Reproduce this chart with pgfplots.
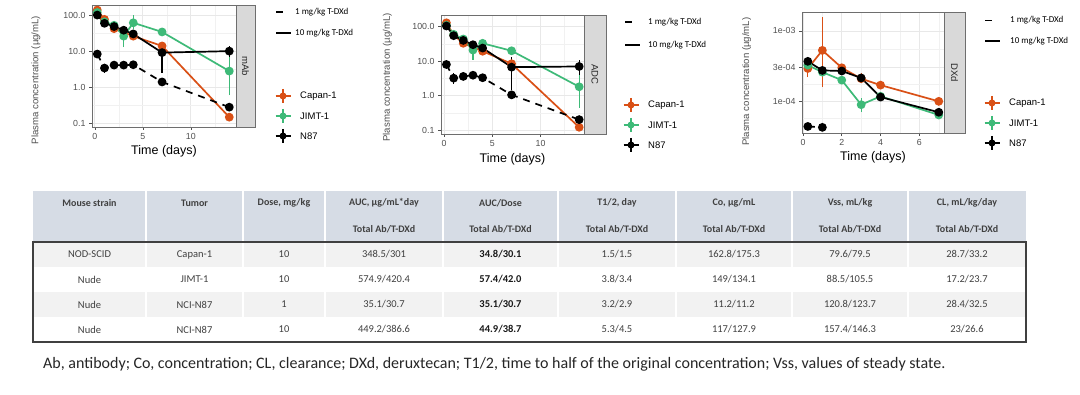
\documentclass[border=0pt]{standalone}
\usepackage{fontspec}
\setmainfont{Liberation Sans}
\newfontfamily\calib{Carlito}
\usepackage{pgfplots}
\pgfplotsset{compat=1.18}
\definecolor{capc}{RGB}{217,80,22}
\definecolor{jimc}{RGB}{62,186,120}
\definecolor{gridc}{RGB}{232,232,232}
\definecolor{stripc}{RGB}{217,217,217}
\definecolor{bordc}{RGB}{110,110,110}
\definecolor{tickc}{RGB}{80,80,80}
\definecolor{hdr}{RGB}{214,220,229}
\definecolor{rowg}{RGB}{242,242,242}
\definecolor{tabtxt}{RGB}{64,64,64}
\pgfplotsset{every axis/.append style={
    scale only axis,
    axis line style={draw=bordc, line width=0.7pt},
    grid=both,
    major grid style={draw=gridc, line width=0.8pt},
    minor grid style={draw=gridc!60!white, line width=0.4pt},
    tick style={draw=tickc, line width=0.6pt},
    major tick length=3pt, minor tick length=0pt,
    tick align=outside, xtick pos=bottom, ytick pos=left,
    /pgf/number format/assume math mode=true,
    tick label style={font=\fontsize{8.8}{10}\selectfont, text=tickc},
    xlabel={Time (days)}, ylabel={Plasma concentration (µg/mL)},
    x label style={font=\fontsize{12.5}{14}\selectfont, anchor=center},
    y label style={font=\fontsize{9.6}{11}\selectfont, text=tickc, anchor=center},
    unbounded coords=jump,
}}
\newcommand{\strip}[5]{% x1 y1 x2 y2 label
  \fill[stripc] (#1,#2) rectangle (#3,#4);
  \draw[bordc, line width=0.7pt] (#1,#2) rectangle (#3,#4);
  \node[rotate=-90, font=\fontsize{9.5}{11}\selectfont, text={black!85}] at ({(#1+#3)/2},{(#2+#4)/2}) {#5};}
\newcommand{\ltleg}[4]{% xline ytop ybot xtext
  \draw[black, line width=1.6pt, dash pattern=on 7pt off 12pt] (#1,#2) -- ++(15,0);
  \draw[black, line width=1.6pt] (#1,#3) -- ++(15,0);
  \node[anchor=west, font=\calib\fontsize{9}{10}\selectfont, inner sep=0pt] at (#4,#2) {1 mg/kg T-DXd};
  \node[anchor=west, font=\calib\fontsize{9}{10}\selectfont, inner sep=0pt] at (#4,#3) {10 mg/kg T-DXd};}
\newcommand{\colkey}[4]{% x y color label
  \draw[draw=#3, line width=1.6pt] (#1-7.5,#2) -- (#1+7.5,#2);
  \draw[draw=#3, line width=1.3pt] (#1,#2-7) -- (#1,#2+7);
  \fill[fill=#3] (#1,#2) circle (3.5);
  \node[anchor=west, font=\fontsize{9.5}{11}\selectfont, inner sep=0pt] at (#1+17,#2) {#4};}
\begin{document}
\begin{tikzpicture}[x=1pt,y=1pt]
\useasboundingbox (0,0) rectangle (1080,394);
\fill[white] (0,0) rectangle (1080,394);
% ---------------- Plot 1: mAb
\begin{axis}[at={(92pt,267pt)}, anchor=south west, width=144pt, height=122pt,
  ymode=log,
  xmin=-0.3, xmax=14.7, ymin=0.079, ymax=190,
  xtick={0,5,10}, minor xtick={2.5,7.5,12.5},
  ytick={0.1,1,10,100}, yticklabels={0.1,1.0,10.0,100.0}, minor ytick={0.316,3.16,31.6},
  y label style={at={(axis description cs:-0.39,0.385)}},
  x label style={at={(axis description cs:0.5,-0.197)}}]
\addplot[line width=1.7pt, color=capc, mark=*, mark size=3.5pt, mark options={solid, fill=capc}] coordinates {(0.25,138)(1,76)(2,42)(4,26)(7,13.9)(14,0.148)};
\addplot[line width=1.3pt, color=jimc, no marks] coordinates {(3,13)(3,45)(3,nan)(4,40)(4,100)(4,nan)(14,0.6)(14,10)};
\addplot[line width=1.7pt, color=jimc, mark=*, mark size=3.5pt, mark options={solid, fill=jimc}] coordinates {(0.25,118)(1,65)(2,52)(3,26)(4,61)(7,34)(14,2.8)};
\addplot[line width=1.3pt, color=black, no marks] coordinates {(7,2.5)(7,18)(7,nan)(14,7)(14,14)(14,nan)(1,2.5)(1,4.5)(1,nan)(4,3.4)(4,5)};
\addplot[line width=1.7pt, color=black, mark=*, mark size=3.5pt, mark options={solid, fill=black}] coordinates {(0.25,100)(1,59)(2,48)(3,38)(4,30)(7,9.1)(14,10)};
\addplot[line width=1.7pt, color=black, dash pattern=on 7pt off 6pt, mark=*, mark size=3.5pt, mark options={solid, fill=black}] coordinates {(0.25,8.3)(1,3.4)(2,4.1)(3,4.1)(4,4.2)(7,1.4)(14,0.28)};
\end{axis}
% ---------------- Plot 2: ADC
\begin{axis}[at={(441pt,260pt)}, anchor=south west, width=143pt, height=119pt,
  ymode=log,
  xmin=-0.31, xmax=14.5, ymin=0.0765, ymax=219,
  xtick={0,5,10}, minor xtick={2.5,7.5,12.5},
  ytick={0.1,1,10,100}, yticklabels={0.1,1.0,10.0,100.0}, minor ytick={0.316,3.16,31.6},
  y label style={at={(axis description cs:-0.375,0.475)}},
  x label style={at={(axis description cs:0.5,-0.21)}}]
\addplot[line width=1.7pt, color=capc, mark=*, mark size=3.5pt, mark options={solid, fill=capc}] coordinates {(0.25,130)(1,58)(2,33)(4,19.4)(7,8.4)(14,0.12)};
\addplot[line width=1.3pt, color=jimc, no marks] coordinates {(3,11)(3,38)(3,nan)(4,25)(4,45)(4,nan)(14,0.45)(14,6)};
\addplot[line width=1.7pt, color=jimc, mark=*, mark size=3.5pt, mark options={solid, fill=jimc}] coordinates {(0.25,110)(1,60)(2,44)(3,21)(4,33)(7,20)(14,1.8)};
\addplot[line width=1.3pt, color=black, no marks] coordinates {(7,1.5)(7,13)(7,nan)(14,4)(14,11)(14,nan)(1,2.2)(1,4.5)};
\addplot[line width=1.7pt, color=black, mark=*, mark size=3.5pt, mark options={solid, fill=black}] coordinates {(0.25,105)(1,55)(2,40)(3,30)(4,24)(7,6.7)(14,7)};
\addplot[line width=1.7pt, color=black, dash pattern=on 7pt off 6pt, mark=*, mark size=3.5pt, mark options={solid, fill=black}] coordinates {(0.25,8)(1,3.2)(2,3.6)(3,3.9)(4,3.3)(7,1.05)(14,0.2)};
\end{axis}
% ---------------- Plot 3: DXd
\begin{axis}[at={(802pt,261pt)}, anchor=south west, width=142pt, height=121pt,
  ymode=log,
  xmin=-0.05, xmax=7.27, ymin=3.55e-5, ymax=1.86e-3,
  xtick={0,2,4,6}, minor xtick={1,3,5,7},
  ytick={1e-4,3e-4,1e-3}, yticklabels={1e-04,3e-04,1e-03}, minor ytick={5.8e-5,1.73e-4,5.5e-4},
  y label style={at={(axis description cs:-0.39,0.425)}},
  x label style={at={(axis description cs:0.5,-0.198)}}]
\addplot[line width=1.3pt, color=capc, no marks] coordinates {(0.25,2.2e-4)(0.25,3.6e-4)(0.25,nan)(1,1.6e-4)(1,1.6e-3)(1,nan)(3,1.8e-4)(3,2.5e-4)};
\addplot[line width=1.7pt, color=capc, mark=*, mark size=3.5pt, mark options={solid, fill=capc}] coordinates {(0.25,2.93e-4)(1,5.3e-4)(2,3.0e-4)(3,2.1e-4)(4,1.7e-4)(7,1.0e-4)};
\addplot[line width=1.3pt, color=jimc, no marks] coordinates {(3,7e-5)(3,1.1e-4)(3,nan)(4,1.05e-4)(4,1.35e-4)};
\addplot[line width=1.7pt, color=jimc, mark=*, mark size=3.5pt, mark options={solid, fill=jimc}] coordinates {(0.25,3.27e-4)(1,2.6e-4)(2,2.0e-4)(3,8.96e-5)(4,1.18e-4)(7,6.4e-5)};
\addplot[line width=1.3pt, color=black, no marks] coordinates {(0.25,3.2e-4)(0.25,4.3e-4)(0.25,nan)(4,1.0e-4)(4,1.3e-4)};
\addplot[line width=1.7pt, color=black, mark=*, mark size=3.5pt, mark options={solid, fill=black}] coordinates {(0.25,3.7e-4)(1,2.75e-4)(2,2.7e-4)(3,2.15e-4)(4,1.15e-4)(7,7.0e-5)};
\addplot[line width=1.7pt, color=black, dash pattern=on 7pt off 6pt, mark=*, mark size=3.5pt, mark options={solid, fill=black}] coordinates {(0.25,4.4e-5)(1,4.27e-5)};
\end{axis}
% ---------------- decorations in pixel coordinates (y down)
\begin{scope}[shift={(0,394)}, yscale=-1]
\strip{236}{5}{255}{127}{mAb}
\strip{584}{15}{606}{134}{ADC}
\strip{944}{12.7}{965}{133}{DXd}
\ltleg{276}{12}{33}{295}
\ltleg{625}{22}{45}{648}
\ltleg{985}{20.5}{41}{1010}
\colkey{283}{96}{capc}{Capan-1}
\colkey{283}{116}{jimc}{JIMT-1}
\colkey{283}{136}{black}{N87}
\colkey{631}{105}{capc}{Capan-1}
\colkey{631}{125}{jimc}{JIMT-1}
\colkey{631}{145}{black}{N87}
\colkey{992}{103}{capc}{Capan-1}
\colkey{992}{123}{jimc}{JIMT-1}
\colkey{992}{143}{black}{N87}
% ---------------- table
\fill[hdr] (33,191) rectangle (1026,242);
\fill[rowg] (33,242) rectangle (1026,267);
\fill[rowg] (33,292) rectangle (1026,317);
\foreach \c in {146,243,325,443,558,676,792,908} {\draw[white, line width=1.5pt] (\c,191) -- (\c,342);}
\draw[black!75, line width=1.1pt] (33,242) rectangle (1026,342);
\begin{scope}[every node/.style={font=\calib\bfseries\fontsize{10}{11}\selectfont, text=tabtxt, inner sep=0pt}]
\node at (89.5,203) {Mouse strain};
\node at (194.5,203) {Tumor};
\node at (284,203) {Dose, mg/kg};
\node at (384,203) {AUC, µg/mL*day};
\node at (500.5,203) {AUC/Dose};
\node at (617,203) {T1/2, day};
\node at (734,203) {Co, µg/mL};
\node at (850,203) {Vss, mL/kg};
\node at (967,203) {CL, mL/kg/day};
\foreach \cx in {384,500.5,617,734,850,967} {\node at (\cx,229) {Total Ab/T-DXd};}
\end{scope}
\begin{scope}[every node/.style={font=\calib\fontsize{10.5}{12}\selectfont, text=tabtxt, inner sep=0pt}]
\node at (89.5,254.5) {NOD-SCID}; \node at (194.5,254.5) {Capan-1}; \node at (284,254.5) {10};
\node at (384,254.5) {348.5/301}; \node at (617,254.5) {1.5/1.5}; \node at (734,254.5) {162.8/175.3};
\node at (850,254.5) {79.6/79.5}; \node at (967,254.5) {28.7/33.2};
\node at (89.5,279.5) {Nude}; \node at (194.5,279.5) {JIMT-1}; \node at (284,279.5) {10};
\node at (384,279.5) {574.9/420.4}; \node at (617,279.5) {3.8/3.4}; \node at (734,279.5) {149/134.1};
\node at (850,279.5) {88.5/105.5}; \node at (967,279.5) {17.2/23.7};
\node at (89.5,304.5) {Nude}; \node at (194.5,304.5) {NCI-N87}; \node at (284,304.5) {1};
\node at (384,304.5) {35.1/30.7}; \node at (617,304.5) {3.2/2.9}; \node at (734,304.5) {11.2/11.2};
\node at (850,304.5) {120.8/123.7}; \node at (967,304.5) {28.4/32.5};
\node at (89.5,329.5) {Nude}; \node at (194.5,329.5) {NCI-N87}; \node at (284,329.5) {10};
\node at (384,329.5) {449.2/386.6}; \node at (617,329.5) {5.3/4.5}; \node at (734,329.5) {117/127.9};
\node at (850,329.5) {157.4/146.3}; \node at (967,329.5) {23/26.6};
\end{scope}
\begin{scope}[every node/.style={font=\calib\bfseries\fontsize{10.5}{12}\selectfont, text=black!90, inner sep=0pt}]
\node at (500.5,254.5) {34.8/30.1};
\node at (500.5,279.5) {57.4/42.0};
\node at (500.5,304.5) {35.1/30.7};
\node at (500.5,329.5) {44.9/38.7};
\end{scope}
\node[anchor=west, inner sep=0pt, font=\calib\fontsize{16}{18}\selectfont, text=black!85] at (43,364) {Ab, antibody; Co, concentration; CL, clearance; DXd, deruxtecan; T1/2, time to half of the original concentration; Vss, values of steady state.};
\end{scope}
\end{tikzpicture}
\end{document}
